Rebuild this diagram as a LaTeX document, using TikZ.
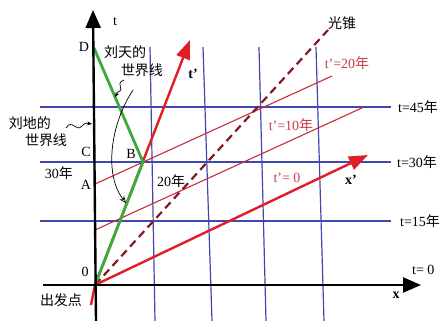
\documentclass[tikz,border=0pt]{standalone}
\usepackage{fontspec}
\setmainfont{Liberation Serif}
\newfontfamily\cjk{Noto Sans CJK SC}
\usetikzlibrary{arrows.meta}
\newcommand\zh[1]{{\cjk #1}}
\definecolor{gridblue}{RGB}{64,72,176}
\definecolor{thinred}{RGB}{200,45,60}
\definecolor{thickred}{RGB}{225,30,40}
\definecolor{lgreen}{RGB}{60,170,60}
\definecolor{cone}{RGB}{130,25,35}
\definecolor{redtext}{RGB}{200,60,75}
\tikzset{
  gridline/.style={draw=gridblue,line width=1.2pt},
  simline/.style={draw=thinred,line width=1.1pt},
  axisline/.style={draw=black,line width=2.4pt,-{Triangle[length=18pt,width=15pt]}},
  redaxis/.style={draw=thickred,line width=2.4pt},
  lbl/.style={inner sep=0pt,font=\fontsize{14}{16}\selectfont},
  rlbl/.style={lbl,text=redtext},
  squig/.style={draw=black,line width=0.7pt,-{Stealth[length=5pt,width=4pt]}}
}
\begin{document}
\begin{tikzpicture}[x=1pt,y=-1pt]
\useasboundingbox (0,0) rectangle (448,321);
\fill[white] (0,0) rectangle (448,321);
% coordinates
\coordinate (O) at (95,285);
\coordinate (Ttop) at (93,10);
\coordinate (Tbot) at (96,321);
\coordinate (Xl) at (43,285);
\coordinate (Xr) at (421,285);
\coordinate (D) at (94,48);
\coordinate (B) at (143,162);
\coordinate (A) at (95,184);
\coordinate (Tp) at (190,40);
\coordinate (Xp) at (368,155);
\coordinate (LC) at (328,30);
\coordinate (P20) at (332,76);
\coordinate (Q10) at (95,230);
\coordinate (P10) at (364,107);
\coordinate (Ob) at (91,305);
% grid
\coordinate (h45a) at (40,107); \coordinate (h45b) at (391,107);
\coordinate (h30a) at (40,162); \coordinate (h30b) at (391,162);
\coordinate (h15a) at (40,221); \coordinate (h15b) at (391,221);
\coordinate (v1a) at (150,47); \coordinate (v1b) at (155,321);
\coordinate (v2a) at (203,47); \coordinate (v2b) at (212,321);
\coordinate (v3a) at (259,47); \coordinate (v3b) at (266,321);
\coordinate (v4a) at (316,47); \coordinate (v4b) at (324,321);
\draw[gridline] (h45a) -- (h45b);
\draw[gridline] (h30a) -- (h30b);
\draw[gridline] (h15a) -- (h15b);
\draw[gridline] (v1a) -- (v1b);
\draw[gridline] (v2a) -- (v2b);
\draw[gridline] (v3a) -- (v3b);
\draw[gridline] (v4a) -- (v4b);
% simultaneity lines
\draw[simline] (A) -- (P20);
\draw[simline] (Q10) -- (P10);
% light cone
\draw[draw=cone,line width=2.2pt,dash pattern=on 8pt off 5pt] (O) -- (LC);
% red axes
\draw[redaxis,-{Triangle[length=19pt,width=14pt]}] (O) -- (Tp);
\draw[redaxis,-{Triangle[length=19pt,width=14pt]}] (O) -- (Xp);
\draw[redaxis] (O) -- (Ob);
% green world line
\draw[draw=lgreen,line width=2.8pt,line join=round] (D) -- (B) -- (O);
% black axes
\draw[axisline] (Tbot) -- (Ttop);
\draw[axisline] (Xl) -- (Xr);
% squiggles
\coordinate (sq1a) at (66,128); \coordinate (sq1b) at (92,124);
\draw[squig] (sq1a) .. controls (72,118) and (76,133) .. (82,126) .. controls (85,123) .. (sq1b);
\coordinate (sq2a) at (124,80); \coordinate (sq2b) at (115,97);
\draw[squig] (sq2a) .. controls (114,84) and (126,89) .. (118,92) -- (sq2b);
\coordinate (ca) at (133,90); \coordinate (cb) at (126,203);
\draw[squig,-{Stealth[length=7pt,width=6pt,open]}] (ca) .. controls (110,125) and (104,175) .. (cb);
% labels
\node[lbl] (lt) at (115,22) {t};
\node[lbl] (lD) at (84,47) {D};
\node[lbl] (ltian1) at (125,52) {\zh{刘天的}};
\node[lbl] (ltian2) at (142,70) {\zh{世界线}};
\node[lbl,font=\fontsize{14}{16}\selectfont\bfseries] (ltp) at (193,74) {t’};
\node[lbl] (lcone) at (342,23) {\zh{光锥}};
\node[rlbl] (l20) at (347,63) {t’=20\zh{年}};
\node[lbl,anchor=west] (l45) at (398,107) {t=45\zh{年}};
\node[lbl] (ldi1) at (30,123) {\zh{刘地的}};
\node[lbl] (ldi2) at (46,140) {\zh{世界线}};
\node[lbl] (lC) at (86,152) {C};
\node[lbl] (lB) at (131,154) {B};
\node[rlbl] (l10) at (291,125) {t’=10\zh{年}};
\node[lbl,anchor=west] (l30) at (397,162) {t=30\zh{年}};
\node[lbl] (l30y) at (59,173) {30\zh{年}};
\node[lbl] (lA) at (86,185) {A};
\node[lbl] (l20y) at (171,181) {20\zh{年}};
\node[rlbl] (l0p) at (287,178) {t’= 0};
\node[lbl,font=\fontsize{14}{16}\selectfont\bfseries] (lxp) at (351,180) {x’};
\node[lbl,anchor=west] (l15) at (400,221) {t=15\zh{年}};
\node[lbl] (lO) at (85,272) {0};
\node[lbl,anchor=west] (lt0) at (412,270) {t= 0};
\node[lbl,font=\fontsize{14}{16}\selectfont\bfseries] (lx) at (396,295) {x};
\node[lbl] (lstart) at (61,300) {\zh{出发点}};
\end{tikzpicture}
\end{document}
